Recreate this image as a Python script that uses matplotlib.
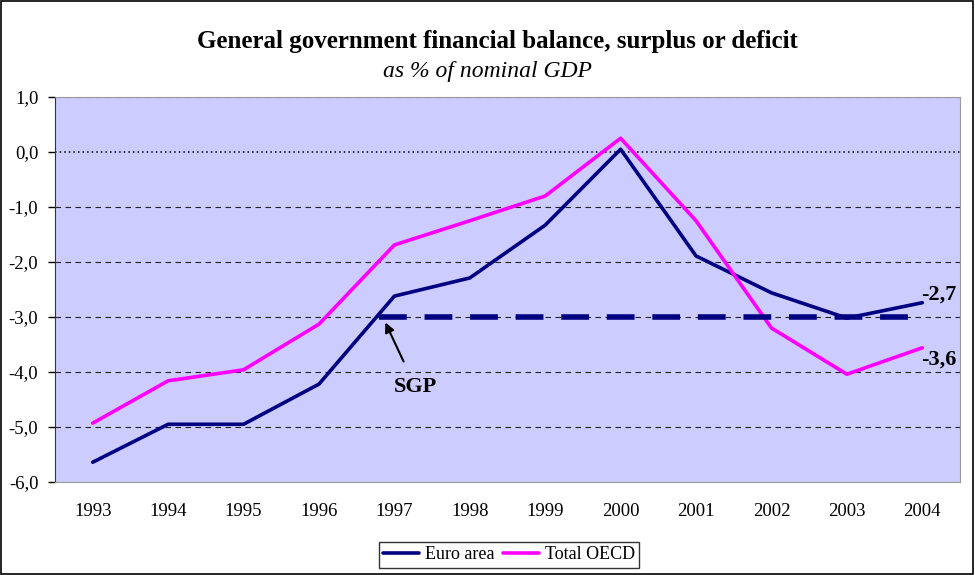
import matplotlib
matplotlib.use("Agg")
import matplotlib.pyplot as plt
from matplotlib.patches import Rectangle

years = ["1993", "1994", "1995", "1996", "1997", "1998", "1999", "2000", "2001", "2002", "2003", "2004"]
euro_area = [-5.64, -4.95, -4.95, -4.22, -2.62, -2.29, -1.33, 0.05, -1.89, -2.56, -3.02, -2.74]
total_oecd = [-4.93, -4.16, -3.96, -3.13, -1.69, -1.25, -0.80, 0.25, -1.25, -3.20, -4.04, -3.56]
sgp_level = -3.0
sgp_start = 3.8   # category index where the SGP line starts
y_ticks = [1.0, 0.0, -1.0, -2.0, -3.0, -4.0, -5.0, -6.0]

plt.rcParams['font.family'] = ['Liberation Serif', 'DejaVu Serif']

fig = plt.figure(figsize=(9.75, 5.75), dpi=100)
fig.patches.append(Rectangle((0.001, 0.001), 0.997, 0.997, transform=fig.transFigure,
                             fill=False, edgecolor='black', linewidth=1.2))
ax = fig.add_axes([0.0564, 0.1617, 0.9282, 0.6696])
ax.set_facecolor('#CCCCFF')

x = list(range(len(years)))
ax.set_xlim(-0.5, len(years) - 0.5)
ax.set_ylim(-6, 1)

for v in y_ticks:
    if v == 0:
        ax.axhline(v, color='black', linestyle=(0, (1, 2)), linewidth=1.1, zorder=1)
    elif v not in (1.0, -6.0):
        ax.axhline(v, color='#222222', linestyle=(0, (5, 4)), linewidth=0.8, zorder=1)
ax.axhline(1.0, color='#555555', linestyle=(0, (5, 4)), linewidth=0.8, zorder=1)

ax.plot(x, euro_area, color='#000080', linewidth=2.6, label='Euro area', zorder=3,
        solid_capstyle='round')
ax.plot(x, total_oecd, color='#FF00FF', linewidth=2.6, label='Total OECD', zorder=3,
        solid_capstyle='round')
ax.plot([sgp_start, len(years) - 1], [sgp_level, sgp_level], color='#000080',
        linewidth=4, linestyle=(0, (5, 3.2)), zorder=4)

ax.annotate('SGP', xy=(3.88, -3.1), xytext=(4.28, -4.27), fontsize=16, fontweight='bold',
            ha='center', va='center',
            arrowprops=dict(arrowstyle='-|>', color='black', lw=1.5, mutation_scale=14,
                            shrinkA=10, shrinkB=0))

ax.text(11.45, -2.6, '-2,7', fontsize=16, fontweight='bold', ha='right', va='center')
ax.text(11.45, -3.78, '-3,6', fontsize=16, fontweight='bold', ha='right', va='center')

ax.set_xticks(x)
ax.set_xticklabels(years, fontsize=13.5)
ax.tick_params(axis='x', length=0, pad=15)
ax.set_yticks(y_ticks)
ax.set_yticklabels([f"{v:.1f}".replace('.', ',') for v in y_ticks], fontsize=13.5)
ax.tick_params(axis='y', length=5, width=1, pad=7, direction='out')

for side in ['top', 'right']:
    ax.spines[side].set_color('#999999')
ax.spines['bottom'].set_color('#999999')
ax.spines['left'].set_color('#333333')

fig.text(0.51, 0.928, 'General government financial balance, surplus or deficit',
         fontsize=18, fontweight='bold', ha='center', va='center')
fig.text(0.50, 0.875, 'as % of nominal GDP', fontsize=17, style='italic',
         ha='center', va='center')

leg = fig.legend(loc='center', bbox_to_anchor=(0.522, 0.035), ncol=2, frameon=True,
                 fontsize=13, handlelength=2.0, handletextpad=0.3, columnspacing=0.5,
                 borderpad=0.25, fancybox=False, edgecolor='black')
leg.get_frame().set_linewidth(1.0)

fig.savefig('out.png', dpi=100)
